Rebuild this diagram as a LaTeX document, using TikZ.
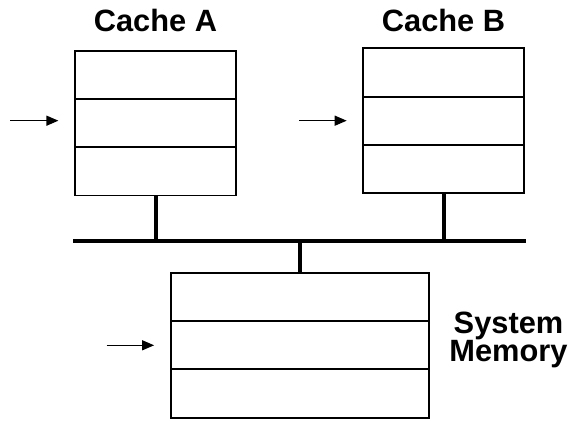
\documentclass[tikz,border=0pt]{standalone}
\usepackage{fontspec}
\setmainfont{Liberation Sans}
\usetikzlibrary{positioning,arrows.meta}

\begin{document}
\begin{tikzpicture}[
  x=0.5pt, y=0.5pt,
  every node/.style={align=center},
  slot/.style={
    rectangle, draw=black, line width=0.9pt, outer sep=0pt, inner sep=0pt,
    minimum width=80.5pt, minimum height=24.15pt
  },
  wideslot/.style={slot, minimum width=129.2pt},
  bus/.style={line width=2pt},
  feed/.style={-{Triangle[length=6pt, width=5pt]}, line width=0.65pt, shorten >=8.3pt},
  title/.style={font=\fontsize{15.4}{14}\selectfont\bfseries, inner sep=0pt},
]
\useasboundingbox (0,0) rectangle (571,421);

% Cache A: three slots
\node[slot] (cacheA1) at (155.5,346.2) {};
\node[slot, below=0pt of cacheA1] (cacheA2) {};
\node[slot, below=0pt of cacheA2] (cacheA3) {};

% Cache B: three slots
\node[slot] (cacheB1) at (443.8,348.5) {};
\node[slot, below=0pt of cacheB1] (cacheB2) {};
\node[slot, below=0pt of cacheB2] (cacheB3) {};

% System memory: three wide slots
\node[wideslot] (mem1) at (299.9,124.1) {};
\node[wideslot, below=0pt of mem1] (mem2) {};
\node[wideslot, below=0pt of mem2] (mem3) {};

% Titles
\node[title, anchor=base] (titleA) at (155.5,389.3) {Cache A};
\node[title, anchor=base] (titleB) at (443.5,389.3) {Cache B};
\node[title] (titleM) at (508.5,81) {System\\Memory};

% Shared bus and stems
\coordinate (busL) at (73,180.3);
\coordinate (busR) at (526,180.3);
\draw[bus] (busL) -- (busR);
\draw[bus] (cacheA3.south) -- (cacheA3.south |- busL);
\draw[bus] (cacheB3.south) -- (cacheB3.south |- busL);
\draw[bus] (mem1.north)    -- (mem1.north |- busL);

% Incoming pointers
\coordinate (inA) at (10,300.3);
\coordinate (inB) at (299,300.3);
\coordinate (inM) at (106.7,75.7);
\draw[feed] (inA) -- (inA -| cacheA2.west);
\draw[feed] (inB) -- (inB -| cacheB2.west);
\draw[feed] (inM) -- (inM -| mem2.west);
\end{tikzpicture}
\end{document}
